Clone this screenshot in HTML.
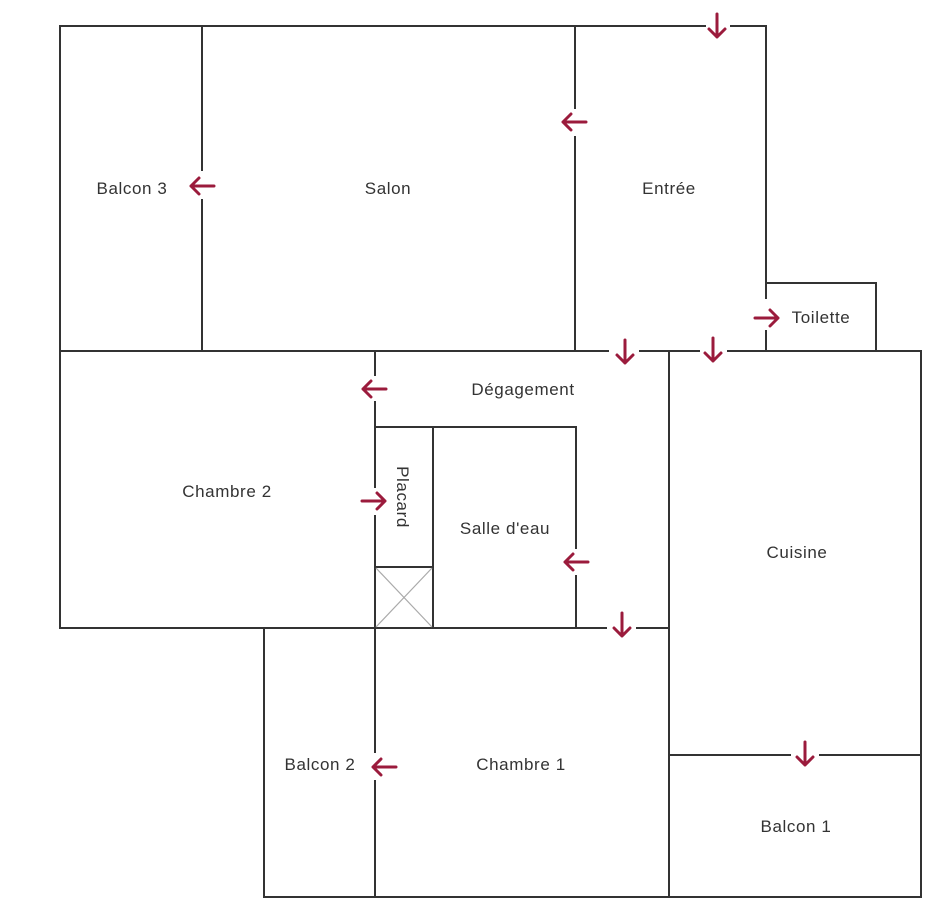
<!DOCTYPE html>
<html><head><meta charset="utf-8"><style>
html,body{margin:0;padding:0;background:#fff;}
svg{display:block;}
text{font-family:"Liberation Sans",sans-serif;font-size:17px;letter-spacing:0.6px;fill:#333;}
</style></head><body>
<svg width="947" height="915" viewBox="0 0 947 915" xmlns="http://www.w3.org/2000/svg">
<g stroke="#333" stroke-width="2" fill="none" stroke-linecap="square">
<path d="M60 26 H705 M731 26 H766 V298 M766 331 V351"/>
<path d="M60 26 V628"/>
<path d="M202 26 V170 M202 200 V351"/>
<path d="M575 26 V108 M575 137 V351"/>
<path d="M766 283 H876 V351"/>
<path d="M60 351 H608 M640 351 H699 M728 351 H921 V897"/>
<path d="M375 351 V375 M375 402 V487 M375 516 V752 M375 781 V897"/>
<path d="M669 351 V897"/>
<path d="M60 628 H606 M637 628 H669"/>
<path d="M375 427 H576 V548 M576 576 V628"/>
<path d="M433 427 V628"/>
<path d="M375 567 H433"/>
<path d="M264 628 V897 H921"/>
<path d="M669 755 H790 M820 755 H921"/>
</g>
<g stroke="#aaa" stroke-width="1.2">
<path d="M376 568 L432 627 M432 568 L376 627"/>
</g>
<g stroke="#9b1b3c" stroke-width="3" fill="none" stroke-linecap="round" stroke-linejoin="round">
<path d="M717 14 V37 M709 29 L717 37 L725 29"/>
<path d="M625 340 V363 M617 355 L625 363 L633 355"/>
<path d="M713 338 V361 M705 353 L713 361 L721 353"/>
<path d="M622 613 V636 M614 628 L622 636 L630 628"/>
<path d="M805 742 V765 M797 757 L805 765 L813 757"/>
<path d="M214 186 H191 M199 178 L191 186 L199 194"/>
<path d="M586 122 H563 M571 114 L563 122 L571 130"/>
<path d="M386 389 H363 M371 381 L363 389 L371 397"/>
<path d="M588 562 H565 M573 554 L565 562 L573 570"/>
<path d="M396 767 H373 M381 759 L373 767 L381 775"/>
<path d="M755 318 H778 M770 310 L778 318 L770 326"/>
<path d="M362 501 H385 M377 493 L385 501 L377 509"/>
</g>
<text x="132" y="194" text-anchor="middle">Balcon 3</text>
<text x="388" y="194" text-anchor="middle">Salon</text>
<text x="669" y="194" text-anchor="middle">Entrée</text>
<text x="821" y="323" text-anchor="middle">Toilette</text>
<text x="523" y="395" text-anchor="middle">Dégagement</text>
<text x="227" y="497" text-anchor="middle">Chambre 2</text>
<text x="505" y="534" text-anchor="middle">Salle d'eau</text>
<text x="797" y="558" text-anchor="middle">Cuisine</text>
<text x="320" y="770" text-anchor="middle">Balcon 2</text>
<text x="521" y="770" text-anchor="middle">Chambre 1</text>
<text x="796" y="832" text-anchor="middle">Balcon 1</text>
<text transform="translate(397,497) rotate(90)" text-anchor="middle">Placard</text>
</svg>
</body></html>
